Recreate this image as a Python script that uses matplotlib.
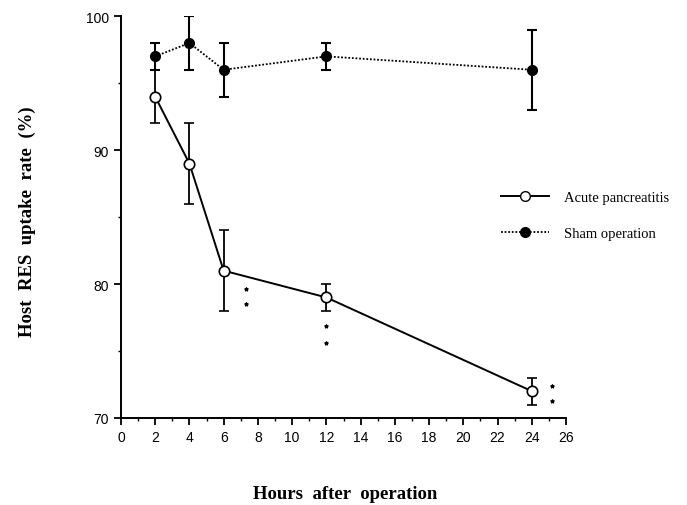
import numpy as np
import matplotlib.pyplot as plt
from matplotlib.ticker import MultipleLocator
from matplotlib.lines import Line2D

# data
hours = [2, 4, 6, 12, 24]
acute_mean = [94, 89, 81, 79, 72]
acute_err = [2, 3, 3, 1, 1]
sham_mean = [97, 98, 96, 97, 96]
sham_err = [1, 2, 2, 1, 3]

# significance marks (two small asterisks beside each point)
star_x = [7.3, 7.3, 12, 12, 25.2, 25.2]
star_y = [79.6, 78.5, 76.9, 75.6, 72.4, 71.3]

fig = plt.figure(figsize=(6.87, 5.06), dpi=100)
ax = fig.add_axes([0.176, 0.172, 0.648, 0.794])

ax.errorbar(hours, sham_mean, yerr=sham_err, color='black', lw=1.3,
            linestyle=(0, (1, 1)), marker='o', ms=7, mfc='black', mec='black',
            ecolor='black', elinewidth=1.5, capsize=3.5, capthick=1.5, zorder=3)
ax.errorbar(hours, acute_mean, yerr=acute_err, color='black', lw=1.4,
            linestyle='-', marker='o', ms=7.5, mfc='white', mec='black', mew=1.2,
            ecolor='black', elinewidth=1.3, capsize=3.5, capthick=1.3, zorder=4)

ax.scatter(star_x, star_y, marker='*', s=6, color='black', zorder=5)

ax.set_xlim(0, 26)
ax.set_ylim(70, 100)
ax.xaxis.set_major_locator(MultipleLocator(2))
ax.xaxis.set_minor_locator(MultipleLocator(1))
ax.yaxis.set_major_locator(MultipleLocator(10))
ax.yaxis.set_minor_locator(MultipleLocator(5))
ax.spines['top'].set_visible(False)
ax.spines['right'].set_visible(False)
ax.spines['left'].set_linewidth(1.4)
ax.spines['bottom'].set_linewidth(1.4)
ax.tick_params(which='major', direction='out', length=5, width=1.3, labelsize=10)
ax.tick_params(which='minor', direction='out', length=2.5, width=1.0)
for lab in ax.get_xticklabels() + ax.get_yticklabels():
    lab.set_family('Liberation Sans')

fig.text(0.04, 0.561, 'Host  RES  uptake  rate  (%)', rotation=90, ha='center', va='center',
         family='Liberation Serif', fontweight='bold', fontsize=13.5)
fig.text(0.502, 0.022, 'Hours  after  operation', ha='center', va='center',
         family='Liberation Serif', fontweight='bold', fontsize=13.5)

handles = [
    Line2D([], [], color='black', lw=1.4, marker='o', ms=7, mfc='white', mec='black'),
    Line2D([], [], color='black', lw=1.3, linestyle=(0, (1, 1)), marker='o', ms=7,
           mfc='black', mec='black'),
]
fig.legend(handles, ['Acute pancreatitis', 'Sham operation'], loc='upper left',
           bbox_to_anchor=(0.71, 0.647), frameon=False, handlelength=3.3,
           handletextpad=1.0, labelspacing=1.55,
           prop={'family': 'Liberation Serif', 'size': 10.5})

fig.savefig('out.png', dpi=100)
